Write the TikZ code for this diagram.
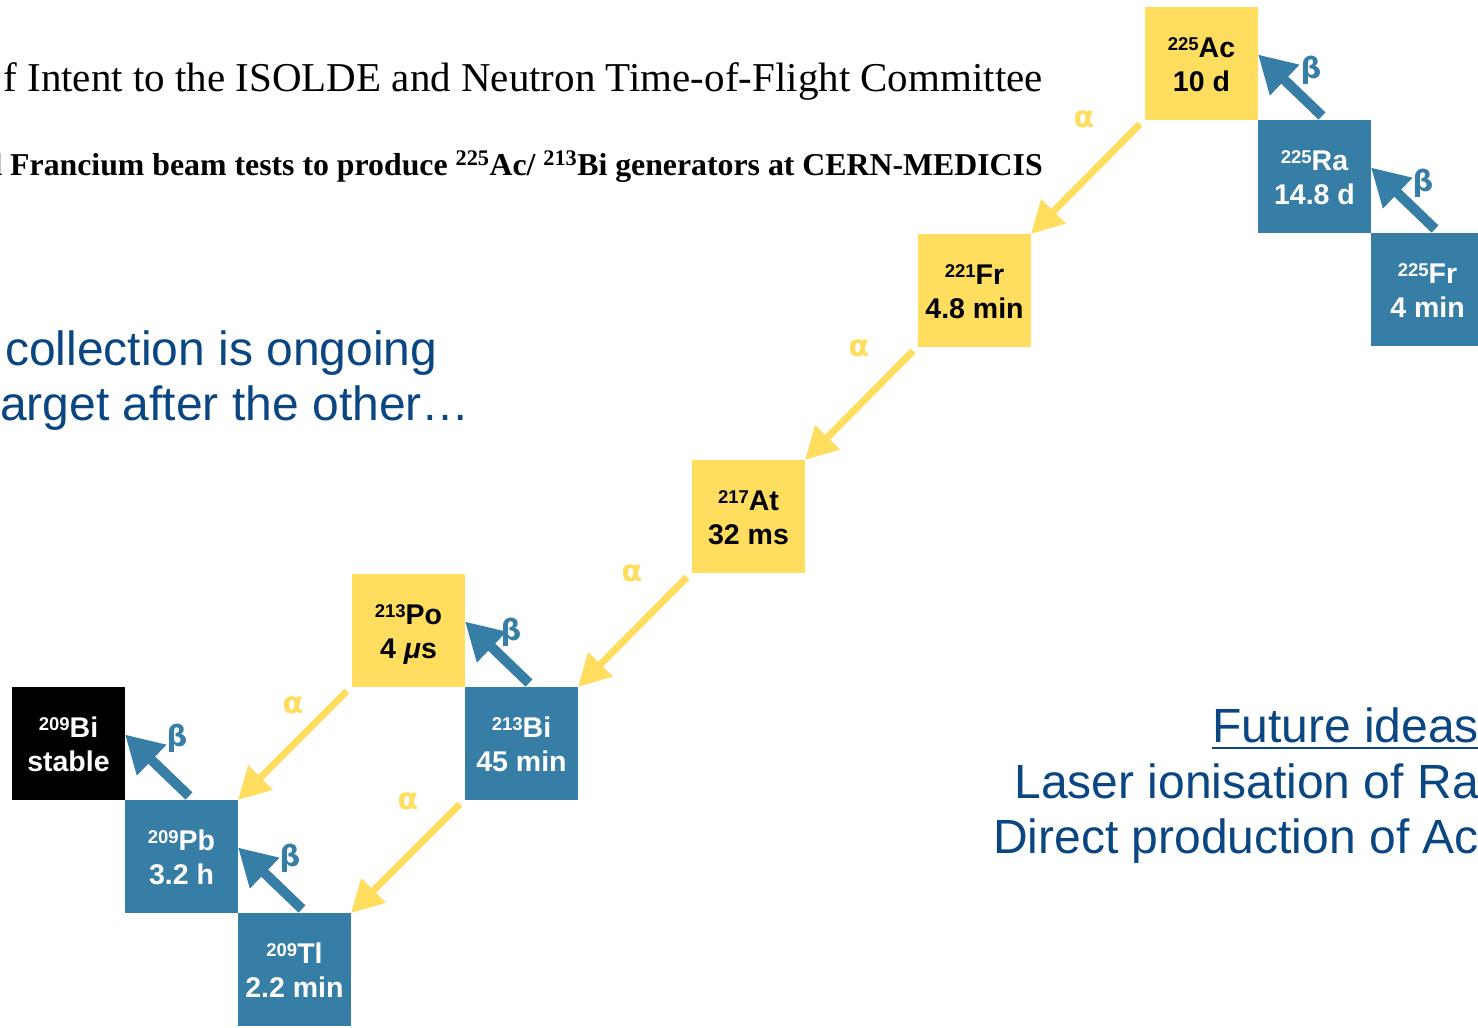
\documentclass[tikz,border=0pt]{standalone}
\usepackage{fontspec}
\setmainfont{Liberation Sans}
\newfontfamily\titlefont{Liberation Serif}
\newfontfamily\greekfont{DejaVu Sans}
\usetikzlibrary{arrows.meta,calc}

\definecolor{nucyellow}{RGB}{255,221,94}
\definecolor{nucblue}{RGB}{55,126,166}
\definecolor{textblue}{RGB}{10,70,130}

\newcommand\fs[1]{\fontsize{#1}{#1}\selectfont}
% mass number raised before the element symbol
\newcommand\nucsym[2]{{\fs{18.5}\raisebox{7pt}{#1}}{\fs{28.5}#2}}
% one nuclide: #1 name, #2 position, #3 box style, #4 text colour,
% #5 mass number, #6 symbol, #7 half-life
\newcommand\isotope[7]{%
  \node[#3] (#1) at #2 {};
  \node[nuctext, text=#4] (#1-sym) at ([yshift=6pt]#1.center) {\nucsym{#5}{#6}};
  \node[nuctext, text=#4] (#1-life) at ([yshift=-28pt]#1.center) {\fs{28.5}#7};
}

\begin{document}
\begin{tikzpicture}[x=1pt,y=-1pt,
  box/.style={minimum size=113pt, inner sep=0pt, outer sep=0pt, draw=none},
  ybox/.style={box, fill=nucyellow},
  bbox/.style={box, fill=nucblue},
  kbox/.style={box, fill=black},
  nuctext/.style={anchor=base, inner sep=0pt, font=\bfseries},
  alphadecay/.style={draw=nucyellow, line width=7pt, -{Triangle[length=32pt,width=33pt]}},
  betadecay/.style={draw=nucblue, line width=10pt, -{Triangle[length=37pt,width=40pt]}},
  alphalabel/.style={inner sep=0pt, text=nucyellow, font=\greekfont\bfseries\fs{30}},
  betalabel/.style={inner sep=0pt, text=nucblue, font=\greekfont\bfseries\fs{29}},
  bluetext/.style={inner sep=0pt, text=textblue, font=\fs{48}}
]
\useasboundingbox (0,0) rectangle (1478,1028);

% header lines
\node[anchor=base east, inner sep=0pt, font=\titlefont\fs{41}] (title1) at (1043,91)
  {f Intent to the ISOLDE and Neutron Time-of-Flight Committee};
\node[anchor=base east, inner sep=0pt, font=\titlefont\bfseries\fs{31.8}] (title2) at (1043,175)
  {d Francium beam tests to produce \textsuperscript{225}Ac/ \textsuperscript{213}Bi generators at CERN-MEDICIS};

% notes
\node[bluetext, anchor=base west] (note1) at (5,365) {collection is ongoing};
\node[bluetext, anchor=base west] (note2) at (0,420) {arget after the other…};

\node[bluetext, anchor=base east] (future) at (1479,742) {Future ideas};
\draw[textblue, line width=2.5pt] ($(future.base west)+(0,6)$) -- ($(future.base east)+(0,6)$);
\node[bluetext, anchor=base east] (idea1) at (1479,798) {Laser ionisation of Ra};
\node[bluetext, anchor=base east] (idea2) at (1479,853) {Direct production of Ac};

% decay chain
\isotope{ac225}{(1201.5,63.5)}{ybox}{black}{225}{Ac}{10 d}
\isotope{ra225}{(1314.5,176.5)}{bbox}{white}{225}{Ra}{14.8 d}
\isotope{fr225}{(1427.5,289.5)}{bbox}{white}{225}{Fr}{4 min}
\isotope{fr221}{(974.5,290.5)}{ybox}{black}{221}{Fr}{4.8 min}
\isotope{at217}{(748.5,516.5)}{ybox}{black}{217}{At}{32 ms}
\isotope{po213}{(408.5,630.5)}{ybox}{black}{213}{Po}{4 {\itshape μ}s}
\isotope{bi213}{(521.5,743.5)}{bbox}{white}{213}{Bi}{45 min}
\isotope{bi209}{(68.5,743.5)}{kbox}{white}{209}{Bi}{stable}
\isotope{pb209}{(181.5,856.5)}{bbox}{white}{209}{Pb}{3.2 h}
\isotope{tl209}{(294.5,969.5)}{bbox}{white}{209}{Tl}{2.2 min}

% alpha decays
\draw[alphadecay] ($(ac225.south west)+(-5,4)$) -- (fr221.north east);
\draw[alphadecay] ($(fr221.south west)+(-5,4)$) -- (at217.north east);
\draw[alphadecay] ($(at217.south west)+(-5,4)$) -- (bi213.north east);
\draw[alphadecay] ($(po213.south west)+(-5,4)$) -- (pb209.north east);
\draw[alphadecay] ($(bi213.south west)+(-5,4)$) -- (tl209.north east);

\node[alphalabel] (a1) at (1084,119) {α};
\node[alphalabel] (a2) at (859,348) {α};
\node[alphalabel] (a3) at (632,573) {α};
\node[alphalabel] (a4) at (293,705) {α};
\node[alphalabel] (a5) at (408,801) {α};

% beta decays
\draw[betadecay] ($(ra225.north west)+(64,-4)$) -- ($(ac225.east)+(0,-9)$);
\draw[betadecay] ($(fr225.north west)+(64,-4)$) -- ($(ra225.east)+(0,-9)$);
\draw[betadecay] ($(bi213.north west)+(64,-4)$) -- ($(po213.east)+(0,-9)$);
\draw[betadecay] ($(pb209.north west)+(64,-4)$) -- ($(bi209.east)+(0,-9)$);
\draw[betadecay] ($(tl209.north west)+(64,-4)$) -- ($(pb209.east)+(0,-9)$);

\node[betalabel] (b1) at (1311,70) {β};
\node[betalabel] (b2) at (1423,183) {β};
\node[betalabel] (b3) at (511,632) {β};
\node[betalabel] (b4) at (177,738) {β};
\node[betalabel] (b5) at (290,858) {β};
\end{tikzpicture}
\end{document}
